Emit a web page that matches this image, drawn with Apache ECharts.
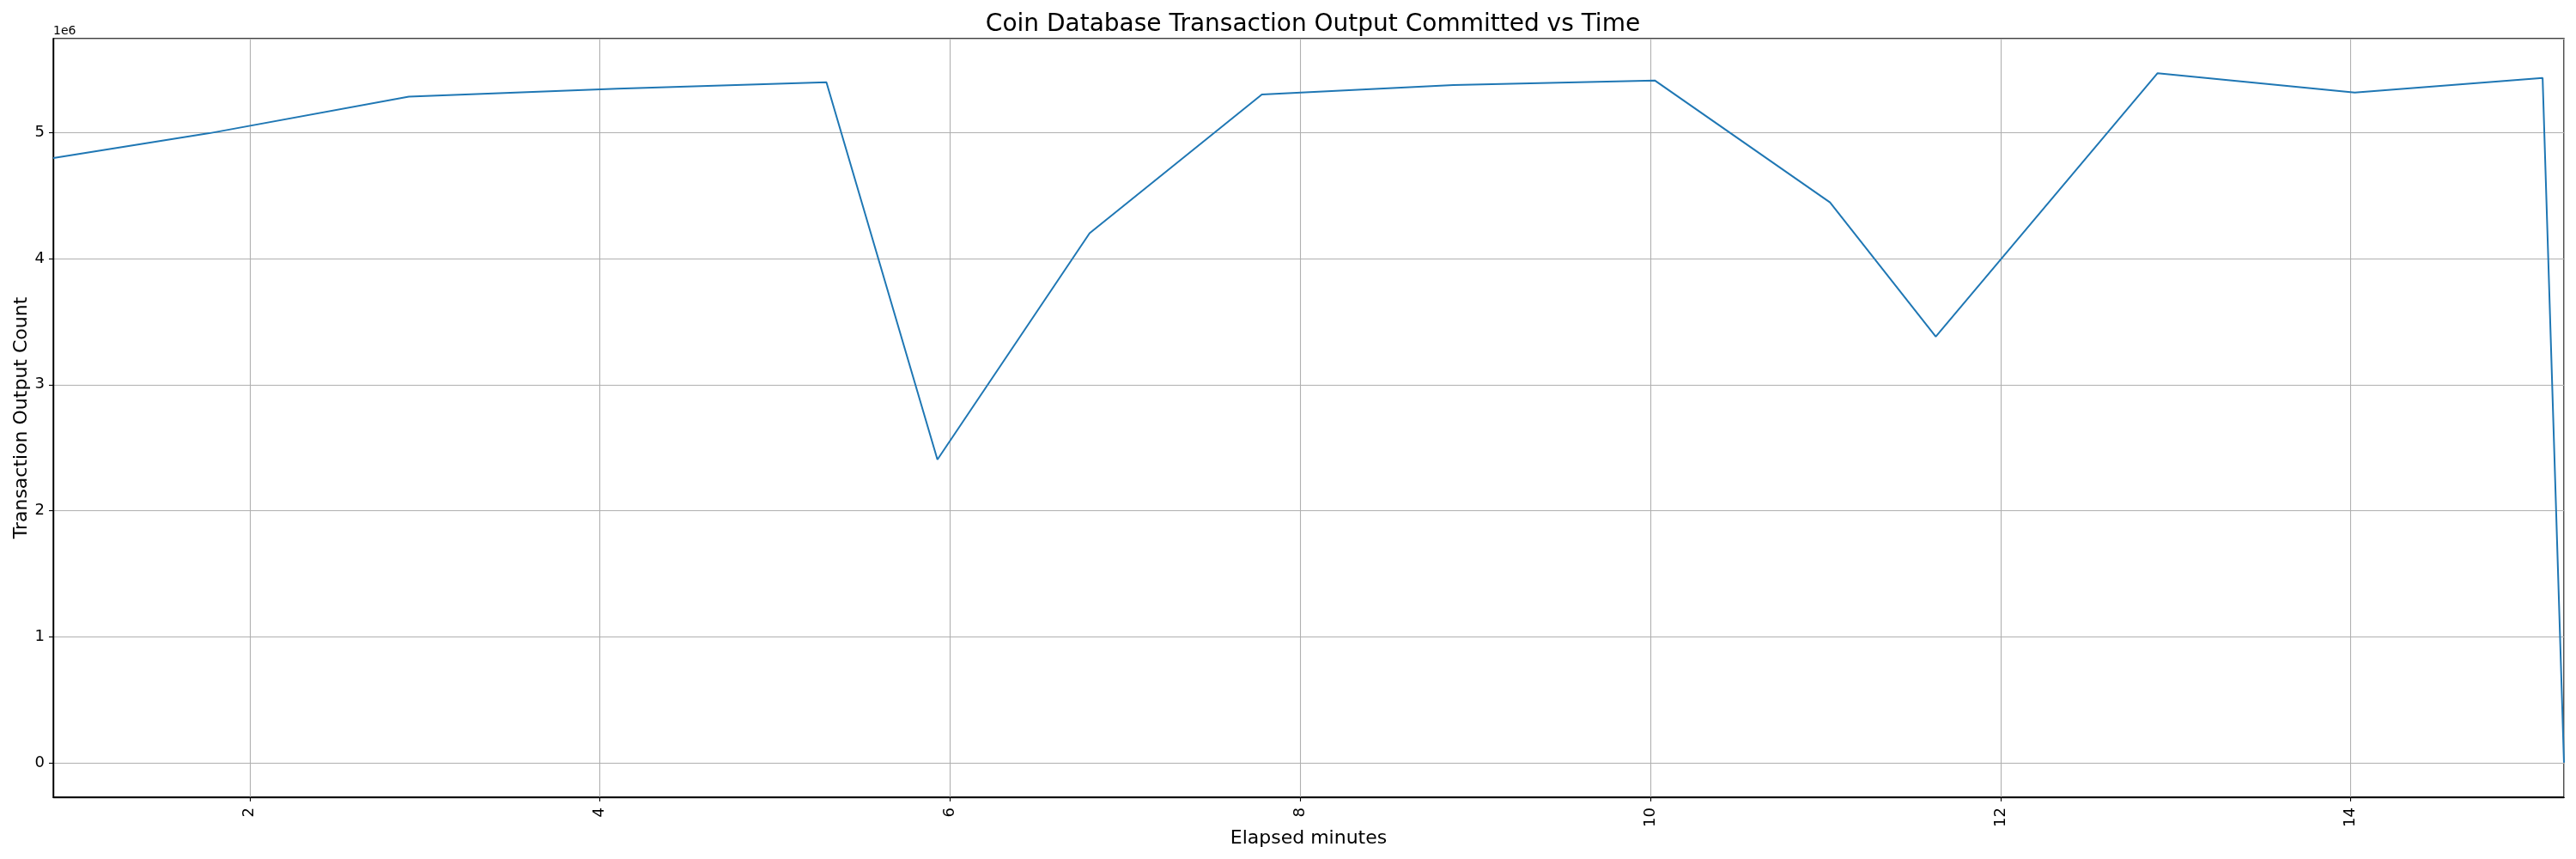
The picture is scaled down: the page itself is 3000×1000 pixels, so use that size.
<!DOCTYPE html>
<html>
<head>
<meta charset="utf-8">
<title>Coin Database Transaction Output Committed vs Time</title>
<script src="https://cdn.jsdelivr.net/npm/echarts@6/dist/echarts.min.js"></script>
<style>
  html, body { margin: 0; padding: 0; background: #fff; }
  #chart { width: 3000px; height: 1000px; }
</style>
</head>
<body>
<div id="chart"></div>
<script>
// elapsed minutes for each sample
var minutes = [0.878, 1.769, 2.909, 4.10, 5.294, 5.928, 6.797, 7.781, 8.875, 10.025, 11.026, 11.630, 12.897, 14.023, 15.096, 15.218];
// transaction outputs committed at that sample
var outputs = [4798000, 4995000, 5286000, 5348000, 5400000, 2405000, 4202000, 5302000, 5377000, 5414000, 4446000, 3381000, 5472000, 5318000, 5434000, 0];

var FONT = 'DejaVu Sans';

// matplotlib-like limits: x tight, y with 5% margins
var yLo = Math.min.apply(null, outputs), yHi = Math.max.apply(null, outputs);
var yPad = (yHi - yLo) * 0.05;

var points = minutes.map(function (m, i) { return [m, outputs[i]]; });

var chart = echarts.init(document.getElementById('chart'), null, {renderer: 'canvas'});

var option = {
    animation: false,
    backgroundColor: '#ffffff',
    title: {
        text: 'Coin Database Transaction Output Committed vs Time',
        left: 1524,
        textAlign: 'center',
        top: 10,
        textStyle: { fontFamily: FONT, fontSize: 28, fontWeight: 'normal', color: '#000' }
    },
    grid: { left: 62, top: 45, width: 2924, height: 883, show: true, borderColor: '#000', borderWidth: 1.4, containLabel: false },
    xAxis: {
        type: 'value',
        min: minutes[0],
        max: minutes[minutes.length - 1],
        splitNumber: 7,
        name: 'Elapsed minutes',
        nameLocation: 'middle',
        nameGap: 37,
        nameMoveOverlap: false,
        nameTextStyle: { fontFamily: FONT, fontSize: 22, color: '#000' },
        axisLine: { onZero: false, lineStyle: { color: '#000', width: 1.4 } },
        axisTick: { length: 5, lineStyle: { color: '#000', width: 1.1 } },
        axisLabel: {
            rotate: 90, margin: 12, showMinLabel: false, showMaxLabel: false,
            fontFamily: FONT, fontSize: 18, color: '#000'
        },
        splitLine: { show: true, lineStyle: { color: '#b0b0b0', width: 1.1 } }
    },
    yAxis: {
        type: 'value',
        min: yLo - yPad,
        max: yHi + yPad,
        name: 'Transaction Output Count',
        nameLocation: 'middle',
        nameGap: 26,
        nameMoveOverlap: false,
        nameTextStyle: { fontFamily: FONT, fontSize: 22, color: '#000' },
        axisLine: { show: true, onZero: false, lineStyle: { color: '#000', width: 1.4 } },
        axisTick: { show: true, length: 5, lineStyle: { color: '#000', width: 1.1 } },
        axisLabel: {
            margin: 10, showMinLabel: false, showMaxLabel: false,
            fontFamily: FONT, fontSize: 18, color: '#000',
            formatter: function (v) { return String(Math.round(v / 1e6)); }
        },
        splitLine: { show: true, lineStyle: { color: '#b0b0b0', width: 1.1 } }
    },
    graphic: [{
        type: 'text',
        left: 62,
        top: 29,
        style: { text: '1e6', font: '14px "DejaVu Sans"', fill: '#000' }
    }],
    series: [{
        type: 'line',
        data: points,
        showSymbol: false,
        lineStyle: { color: '#1f77b4', width: 2 },
        clip: true
    }]
};
chart.setOption(option);
</script>
</body>
</html>
